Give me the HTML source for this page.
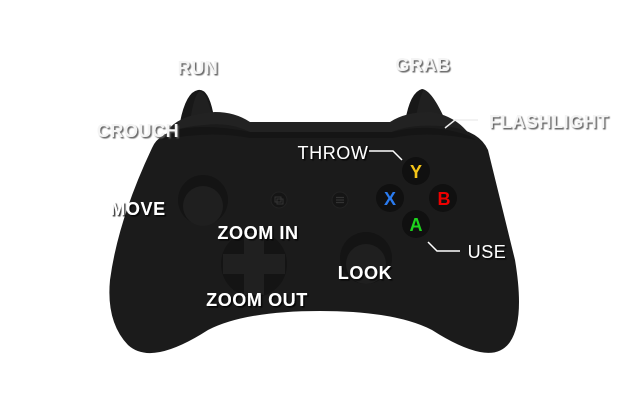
<!DOCTYPE html>
<html><head><meta charset="utf-8"><style>
html,body{margin:0;padding:0;background:#fff;width:640px;height:400px;overflow:hidden}
svg{display:block}
.l{font-family:"Liberation Sans",sans-serif;font-weight:bold;font-size:18px;fill:#fff;letter-spacing:0.6px}
.o{fill:#f4f4f4}
</style></head><body>
<svg width="640" height="400" viewBox="0 0 640 400">
<defs><filter id="sh" x="-20%" y="-20%" width="140%" height="160%"><feDropShadow dx="1.5" dy="1.5" stdDeviation="0.6" flood-color="#555" flood-opacity="0.9"/></filter>
<filter id="sh2" x="-20%" y="-20%" width="140%" height="160%"><feDropShadow dx="1.5" dy="1.5" stdDeviation="0.6" flood-color="#000" flood-opacity="0.8"/></filter></defs>
<path d="M180,122 Q186,92 198,90 Q208,88 213,112 L215,125 Z" fill="#181818"/>
<path d="M190,122 Q194,94 200,91 Q207,92 213,120 Z" fill="#202020"/>
<path d="M405,122 Q410,92 422,89 Q432,90 446,122 Z" fill="#181818"/>
<path d="M415,122 Q420,94 424,90 Q432,92 446,122 Z" fill="#202020"/>
<path d="M168,130 Q180,114 215,112 Q235,112 250,122 L390,122 Q405,112 430,112 Q455,115 470,135 L470,145 L170,145 Z" fill="#222"/>
<path d="M152,148 Q160,128 205,125 Q230,122 250,132 L392,132 Q410,124 440,126 Q478,128 488,150 L515,260 Q525,320 510,342 Q500,356 480,352 Q460,348 432,330 Q395,311 320,311 Q245,311 208,330 Q180,348 160,352 Q140,356 128,345 Q106,322 110,280 Q118,220 152,148 Z" fill="#1b1b1b"/>
<path d="M168,132 Q200,122 250,132 L392,132 Q430,122 470,136 L476,140 Q430,130 392,138 L250,138 Q210,130 162,140 Z" fill="#151515"/>
<circle cx="203" cy="200" r="25" fill="#141414"/>
<circle cx="203" cy="206" r="20" fill="#1f1f1f"/>
<circle cx="366" cy="258" r="26" fill="#141414"/>
<circle cx="366" cy="264" r="20" fill="#1f1f1f"/>
<circle cx="254" cy="264" r="33" fill="#141414"/>
<rect x="244" y="233" width="20" height="62" fill="#202020"/>
<rect x="223" y="254" width="62" height="20" fill="#202020"/>
<circle cx="279" cy="200" r="8" fill="#151515" stroke="#222"/>
<rect x="275" y="197" width="6" height="5" fill="none" stroke="#333" stroke-width="1"/>
<rect x="277" y="199" width="6" height="5" fill="none" stroke="#333" stroke-width="1"/>
<circle cx="340" cy="200" r="8" fill="#151515" stroke="#222"/>
<path d="M336,197.5h8M336,200h8M336,202.5h8" stroke="#333" stroke-width="1.2"/>
<circle cx="416" cy="171" r="14" fill="#101010"/>
<circle cx="390" cy="198" r="14" fill="#101010"/>
<circle cx="443" cy="198" r="14" fill="#101010"/>
<circle cx="416" cy="224" r="14" fill="#101010"/>
<g font-family="Liberation Sans,sans-serif" font-weight="bold" font-size="18" text-anchor="middle">
<text x="416" y="178" fill="#f5c518">Y</text>
<text x="390" y="205" fill="#2a7bf0">X</text>
<text x="444" y="205" fill="#e00">B</text>
<text x="416" y="231" fill="#1dd31d">A</text>
</g>
<polyline points="369,151 393,151 402,160" fill="none" stroke="#fff" stroke-width="1.5"/>
<polyline points="428,242 437,251 460,251" fill="none" stroke="#fff" stroke-width="1.5"/>
<polyline points="445,128 455,120 478,120" fill="none" stroke="#eee" stroke-width="1.5"/>
<g class="l o" filter="url(#sh)" text-anchor="middle">
<text x="198" y="74">RUN</text>
<text x="423" y="71">GRAB</text>
<text x="138" y="137">CROUCH</text>
<text x="549" y="128">FLASHLIGHT</text>
</g>
<g class="l" filter="url(#sh2)" text-anchor="middle">
<text x="138" y="215">MOVE</text>
<text x="258" y="239">ZOOM IN</text>
<text x="257" y="306">ZOOM OUT</text>
<text x="365" y="279">LOOK</text>
<text x="333" y="159" font-weight="normal">THROW</text>
<text x="487" y="258" font-weight="normal">USE</text>
</g>
</svg>
</body></html>
